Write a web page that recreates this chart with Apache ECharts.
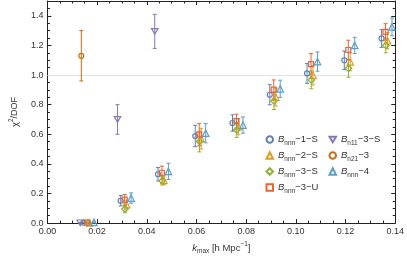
<!DOCTYPE html>
<html><head><meta charset="utf-8">
<script src="https://cdn.jsdelivr.net/npm/echarts@6/dist/echarts.min.js"></script>
<style>html,body{margin:0;padding:0;background:#fff}#c{width:407px;height:260px}</style>
</head><body><div id="c"></div>
<script>
// ---------- data ----------
const kBase = [0.015, 0.030, 0.045, 0.060, 0.075, 0.090, 0.105, 0.120, 0.135];
const seriesNames = ['Bnnn-1-S', 'Bnnn-2-S', 'Bnnn-3-S', 'Bnnn-3-U', 'Bn11-3-S', 'Bn21-3', 'Bnnn-4'];
const kShift = [-0.0005, 0.0019, 0.0012, 0.0011, -0.0018, -0.00135, 0.0037];

const chiNnn1S = [0.003, 0.151, 0.330, 0.588, 0.676, 0.867, 1.011, 1.100, 1.247];
const errNnn1S = [0.003, 0.035, 0.045, 0.072, 0.055, 0.068, 0.067, 0.062, 0.060];
const chiNnn2S = [0.002, 0.125, 0.289, 0.570, 0.651, 0.851, 0.998, 1.089, 1.232];
const errNnn2S = [0.002, 0.030, 0.030, 0.070, 0.055, 0.060, 0.065, 0.060, 0.055];
const chiNnn3S = [0.002, 0.095, 0.285, 0.551, 0.629, 0.825, 0.967, 1.045, 1.200];
const errNnn3S = [0.002, 0.025, 0.028, 0.070, 0.050, 0.058, 0.060, 0.060, 0.050];
const chiNnn3U = [0.004, 0.158, 0.340, 0.597, 0.689, 0.902, 1.073, 1.169, 1.291];
const errNnn3U = [0.004, 0.035, 0.045, 0.075, 0.047, 0.065, 0.072, 0.066, 0.056];
const chiN113S = [0.002, 0.700, 1.295];
const errN113S = [0.002, 0.100, 0.115];
const chiN213 = [1.130];
const errN213 = [0.170];
const chiNnn4 = [0.005, 0.169, 0.349, 0.607, 0.662, 0.907, 1.091, 1.200, 1.325];
const errNnn4 = [0.004, 0.035, 0.055, 0.065, 0.055, 0.058, 0.065, 0.055, 0.060];

const xTickLabels = ['0.00', '0.02', '0.04', '0.06', '0.08', '0.10', '0.12', '0.14'];
const yTickLabels = ['0.0', '0.2', '0.4', '0.6', '0.8', '1.0', '1.2', '1.4'];

// ---------- styling ----------
const colors = ['#5E81B5', '#E19C24', '#8FB032', '#EB6235', '#8778B3', '#C56E1A', '#5D9EC7'];
const symbols = ['circle', 'triangle', 'diamond', 'rect', 'path://M0,0L10,0L5,8.66Z', 'circle', 'triangle'];
const symSizes = [5, 6.5, 6.5, 5, 6.5, 5, 6.5];
const F = 'Liberation Sans, Arial, sans-serif';
const TXT = '#333';

const allChi = [chiNnn1S, chiNnn2S, chiNnn3S, chiNnn3U, chiN113S, chiN213, chiNnn4];
const allErr = [errNnn1S, errNnn2S, errNnn3S, errNnn3U, errN113S, errN213, errNnn4];

const legendParts = {
  'Bnnn-1-S': ['nnn', '−1−S'], 'Bnnn-2-S': ['nnn', '−2−S'], 'Bnnn-3-S': ['nnn', '−3−S'],
  'Bnnn-3-U': ['nnn', '−3−U'], 'Bn11-3-S': ['n11', '−3−S'], 'Bn21-3': ['n21', '−3'], 'Bnnn-4': ['nnn', '−4']
};

function errSeries(i) {
  const color = colors[i];
  const data = allChi[i].map((v, j) => [kBase[j] + kShift[i], v - allErr[i][j], v + allErr[i][j]]);
  return {
    type: 'custom', name: seriesNames[i] + ' err', data: data, silent: true, z: 2,
    encode: { x: 0, y: [1, 2] },
    renderItem: function (params, api) {
      const x = api.value(0);
      const lo = api.coord([x, api.value(1)]);
      const hi = api.coord([x, api.value(2)]);
      const w = 2;
      const st = { stroke: color, lineWidth: 1 };
      return {
        type: 'group', children: [
          { type: 'line', shape: { x1: lo[0], y1: lo[1], x2: hi[0], y2: hi[1] }, style: st },
          { type: 'line', shape: { x1: lo[0] - w, y1: lo[1], x2: lo[0] + w, y2: lo[1] }, style: st },
          { type: 'line', shape: { x1: hi[0] - w, y1: hi[1], x2: hi[0] + w, y2: hi[1] }, style: st }
        ]
      };
    }
  };
}

function markerSeries(i) {
  const s = {
    type: 'scatter', name: seriesNames[i], z: 3,
    data: allChi[i].map((v, j) => [kBase[j] + kShift[i], v]),
    symbol: symbols[i], symbolSize: symSizes[i], symbolKeepAspect: true,
    itemStyle: { color: 'rgba(255,255,255,0)', borderColor: colors[i], borderWidth: 1.2, opacity: 1 },
    emphasis: { disabled: true }
  };
  if (i === 0) {
    s.markLine = {
      silent: true, symbol: 'none', label: { show: false }, z: 1,
      lineStyle: { color: '#e2e2e2', width: 1, type: 'solid' },
      data: [{ yAxis: 1.0 }]
    };
  }
  return s;
}

const series = [];
for (let i = 0; i < seriesNames.length; i++) {
  series.push(errSeries(i));
  series.push(markerSeries(i));
}

const legendRich = {
  b: { fontFamily: F, fontStyle: 'italic', fontSize: 9.5, color: TXT, lineHeight: 14 },
  s: { fontFamily: F, fontSize: 6.5, color: TXT, lineHeight: 6, verticalAlign: 'bottom' },
  t: { fontFamily: F, fontSize: 9.5, color: TXT, lineHeight: 14 }
};
function legendFmt(name) {
  const p = legendParts[name];
  return '{b|B}{s|' + p[0] + '}{t|' + p[1] + '}';
}
function mkLegend(names, left) {
  return {
    data: names, orient: 'vertical', left: left, top: 134.5,
    itemWidth: 6.5, itemHeight: 6.5, itemGap: 4, itemTextGap: 5.5, padding: 0,
    selectedMode: false, formatter: legendFmt,
    textStyle: { rich: legendRich, fontFamily: F, fontSize: 9.5, color: TXT }
  };
}

const axisLineStyle = { color: '#222', width: 1 };
function xAx(pos, labels) {
  return {
    type: 'value', position: pos, min: 0, max: 0.14, interval: 0.02,
    axisLine: { show: true, onZero: false, lineStyle: axisLineStyle },
    axisTick: { show: true, inside: true, length: 4, lineStyle: axisLineStyle },
    minorTick: { show: true, splitNumber: 4, length: 2.5, lineStyle: axisLineStyle },
    splitLine: { show: false }, minorSplitLine: { show: false },
    axisLabel: {
      show: labels, fontFamily: F, fontSize: 9, color: TXT, margin: 4,
      formatter: function (v) {
        const idx = Math.round(v / 0.02);
        return Math.abs(v - idx * 0.02) < 1e-9 && xTickLabels[idx] ? xTickLabels[idx] : '';
      }
    }
  };
}
function yAx(pos, labels) {
  return {
    type: 'value', position: pos, min: 0, max: 1.5, interval: 0.2,
    axisLine: { show: true, onZero: false, lineStyle: axisLineStyle },
    axisTick: { show: true, inside: true, length: 4, lineStyle: axisLineStyle },
    minorTick: { show: true, splitNumber: 4, length: 2.5, lineStyle: axisLineStyle },
    splitLine: { show: false }, minorSplitLine: { show: false },
    axisLabel: {
      show: labels, fontFamily: F, fontSize: 9, color: TXT, margin: 4,
      formatter: function (v) {
        const idx = Math.round(v / 0.2);
        return Math.abs(v - idx * 0.2) < 1e-9 && yTickLabels[idx] ? yTickLabels[idx] : '';
      }
    }
  };
}

const xMain = xAx('bottom', true);
xMain.name = '{k|k}{s|max}{t| [h Mpc}{p|−1}{t|]}';
xMain.nameLocation = 'middle';
xMain.nameGap = 12;
xMain.nameTextStyle = {
  rich: {
    k: { fontFamily: F, fontStyle: 'italic', fontSize: 9.5, color: TXT, lineHeight: 14 },
    s: { fontFamily: F, fontSize: 6.5, color: TXT, lineHeight: 6, verticalAlign: 'bottom' },
    t: { fontFamily: F, fontSize: 9.5, color: TXT, lineHeight: 14 },
    p: { fontFamily: F, fontSize: 6.5, color: TXT, lineHeight: 6, verticalAlign: 'top' }
  }
};
const xTop = xAx('top', false);

const yMain = yAx('left', true);
yMain.name = '{c|χ}{p|2}{t|/DOF}';
yMain.nameLocation = 'middle';
yMain.nameRotate = 90;
yMain.nameGap = 19;
yMain.nameTextStyle = {
  rich: {
    c: { fontFamily: F, fontSize: 9.5, color: TXT, lineHeight: 14 },
    p: { fontFamily: F, fontSize: 6.5, color: TXT, lineHeight: 6, verticalAlign: 'top' },
    t: { fontFamily: F, fontSize: 9, color: TXT, lineHeight: 14 }
  }
};
const yRight = yAx('right', false);

const chart = echarts.init(document.getElementById('c'), null, { renderer: 'canvas' });
chart.setOption({
  animation: false,
  backgroundColor: '#fff',
  grid: { left: 34, right: 11, top: 1, bottom: 34, containLabel: false },
  xAxis: [xMain, xTop],
  yAxis: [yMain, yRight],
  legend: [
    mkLegend(['Bnnn-1-S', 'Bnnn-2-S', 'Bnnn-3-S', 'Bnnn-3-U'], 265.5),
    mkLegend(['Bn11-3-S', 'Bn21-3', 'Bnnn-4'], 328.5)
  ],
  series: series
});
</script>
</body></html>
